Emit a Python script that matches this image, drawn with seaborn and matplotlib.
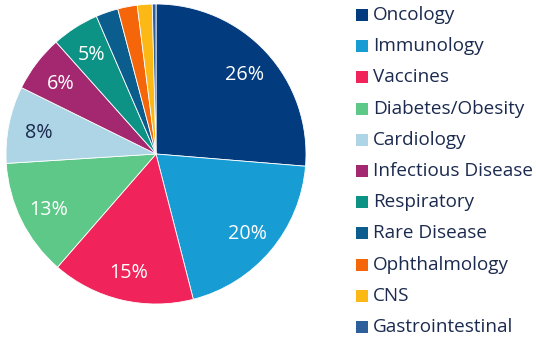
import matplotlib
matplotlib.use("Agg")
import matplotlib.pyplot as plt
from matplotlib.patches import Rectangle
import seaborn as sns

categories = ["Oncology", "Immunology", "Vaccines", "Diabetes/Obesity", "Cardiology",
              "Infectious Disease", "Respiratory", "Rare Disease", "Ophthalmology",
              "CNS", "Gastrointestinal"]
shares = [26.3, 19.7, 15.4, 12.6, 8.3, 6.1, 5.1, 2.4, 2.1, 1.6, 0.4]
labels_shown = ["26%", "20%", "15%", "13%", "8%", "6%", "5%", "", "", "", ""]
colors = ["#033B7F", "#189CD4", "#F0245A", "#5DC887", "#ADD5E5", "#A3286F",
          "#0D9385", "#0B5D8D", "#F5660B", "#FCB814", "#2E5F9B"]
label_colors = ["white"] * 4 + ["#1B2A4E"] + ["white"] * 6

sns.set_theme(style="white")
plt.rcParams["font.family"] = ["Open Sans", "DejaVu Sans"]
palette = sns.color_palette(colors)

W, H = 536, 341
fig = plt.figure(figsize=(W / 100, H / 100), dpi=100)
fig.patch.set_facecolor("white")
ax = fig.add_axes([6 / W, (H - 304) / H, 300 / W, 300 / H])
wedges, texts = ax.pie(shares, colors=palette, startangle=90, counterclock=False,
                       labels=labels_shown, labeldistance=0.80,
                       wedgeprops=dict(linewidth=0.6, edgecolor="white"),
                       textprops=dict(fontsize=14.2))
for t, c in zip(texts, label_colors):
    t.set_color(c)
    t.set_ha("center")
    t.set_va("center_baseline")
ax.set_aspect("equal")
ax.set_xlim(-1, 1)
ax.set_ylim(-1, 1)
ax.axis("off")

y0, dy = 15, 31.2
for i, (name, col) in enumerate(zip(categories, palette)):
    yc = y0 + i * dy
    fig.patches.append(Rectangle((356 / W, (H - yc - 6) / H), 12 / W, 12 / H,
                                 transform=fig.transFigure, facecolor=col,
                                 edgecolor="none"))
    fig.text(373 / W, (H - yc) / H, name, fontsize=13.6, color="#1B2A4E",
             va="center", ha="left")

fig.savefig("out.png", dpi=100)
